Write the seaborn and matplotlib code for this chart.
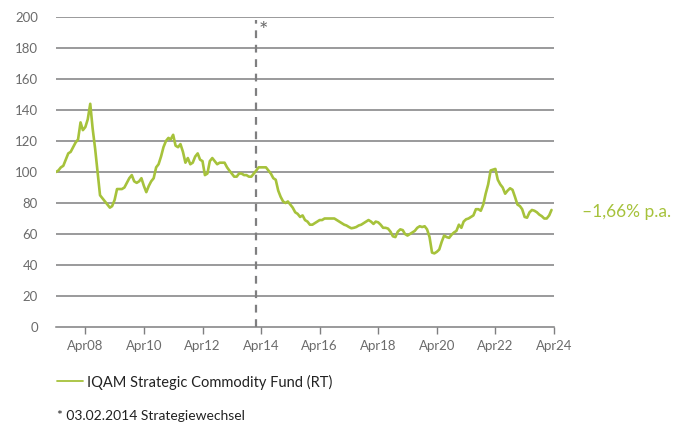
import pandas as pd
import seaborn as sns
import matplotlib.pyplot as plt
import matplotlib.dates as mdates
import numpy as np

# monthly fund values (start Apr 2007 = 100)
fund_values = [
    100, 101, 103, 104, 108, 112, 113, 116, 119, 121, 132, 127,
    129, 134, 144, 128, 115, 100, 85, 83, 81, 79, 77, 78,
    82, 89, 89, 89, 90, 93, 96, 98, 94, 93, 94, 96,
    91, 87, 91, 94, 96, 103, 105, 110, 116, 120, 122, 121,
    124, 117, 116, 118, 113, 106, 109, 105, 106, 110, 112, 108,
    107, 98, 99, 107, 109, 107, 105, 106, 106, 106, 103, 101,
    99, 97, 97, 99, 99, 98, 98, 97, 97, 99, 101, 103,
    103, 103, 103, 101, 99, 96, 95, 88, 84, 81, 80, 81,
    79, 77, 74, 73, 71, 72, 69, 68, 66, 66, 67, 68,
    69, 69, 70, 70, 70, 70, 70, 69, 68, 67, 66, 65.5,
    64.5, 63.7, 64, 64.5, 65.5, 66, 67, 68, 69, 68, 66.5, 68,
    67.5, 66, 64, 64, 63.5, 61.5, 58.5, 58, 61.5, 63, 62.5, 60,
    59, 60, 61, 62, 64, 65, 64.5, 65, 63, 58, 48, 47.5,
    48.5, 50, 55, 59, 58, 57.5, 59.5, 61, 62, 66, 64, 68,
    69.5, 70, 71, 72, 76, 76, 75, 79, 86, 92, 101, 101.5,
    102, 95, 92, 90, 86, 88, 89.5, 88.5, 84, 79, 78, 76,
    71, 70.5, 74, 75.5, 75, 74, 72.5, 71.5, 70, 70, 72, 75.5,
]
fund_label = "IQAM Strategic Commodity Fund (RT)"
start_month = "2007-04-01"
switch_date = "2014-02-03"
perf_text = "\u20131,66% p.a."
footnote = "* 03.02.2014 Strategiewechsel"
y_ticks = list(range(0, 201, 20))
x_tick_years = list(range(2008, 2025, 2))

green = "#a6c23b"
grey = "#7f7f80"
text_grey = "#6b6b6b"

df = pd.DataFrame({
    "date": pd.date_range(start_month, periods=len(fund_values), freq="MS"),
    "value": fund_values,
})

sns.set_style("white")
plt.rcParams["font.family"] = ["Lato", "DejaVu Sans"]

fig = plt.figure(figsize=(6.77, 4.28), dpi=100)
ax = fig.add_axes([56 / 677, 101 / 428, 498 / 677, 310 / 428])

sns.lineplot(data=df, x="date", y="value", color=green, linewidth=1.9,
             label=fund_label, ax=ax)

ax.set_xlim(pd.Timestamp("2007-04-01"), pd.Timestamp("2024-04-01"))
ax.set_ylim(0, 200)
ax.set_yticks(y_ticks)
for v in y_ticks[1:]:
    ax.axhline(v, color=grey, linewidth=1.1, zorder=0)

ax.set_xticks([pd.Timestamp(f"{y}-04-01") for y in x_tick_years])
ax.xaxis.set_major_formatter(mdates.DateFormatter("Apr%y"))
ax.tick_params(axis="x", direction="out", length=5, width=1, color=grey,
               labelcolor=text_grey, labelsize=9.5, pad=4, bottom=True)
ax.tick_params(axis="y", length=0, labelcolor=text_grey, labelsize=9.5, pad=13)

for side in ["top", "right", "left"]:
    ax.spines[side].set_visible(False)
ax.spines["bottom"].set_color(grey)
ax.spines["bottom"].set_linewidth(1.1)
ax.set_xlabel("")
ax.set_ylabel("")

# strategy switch marker
sw = pd.Timestamp(switch_date)
ax.plot([sw, sw], [0, 198], color=grey, linewidth=1.6, linestyle=(0, (3.5, 3)),
        zorder=1)
ax.text(sw + pd.Timedelta(days=25), 191, "*", color=text_grey, fontsize=16,
        ha="left", va="center")

fig.text(582 / 677, 1 - 212 / 428, perf_text, color=green, fontsize=12.5,
         ha="left", va="center")

leg = ax.legend(loc="center left", bbox_to_anchor=(57 / 677, 1 - 382 / 428),
                bbox_transform=fig.transFigure, frameon=False,
                handlelength=1.75, handletextpad=0.3, borderpad=0,
                borderaxespad=0, fontsize=10.5, labelcolor="#222222")
for h in leg.legend_handles:
    h.set_linewidth(1.3)

fig.text(57 / 677, 1 - 416 / 428, footnote, color="#222222", fontsize=10,
         ha="left", va="center")

fig.savefig("out.png", dpi=100)
